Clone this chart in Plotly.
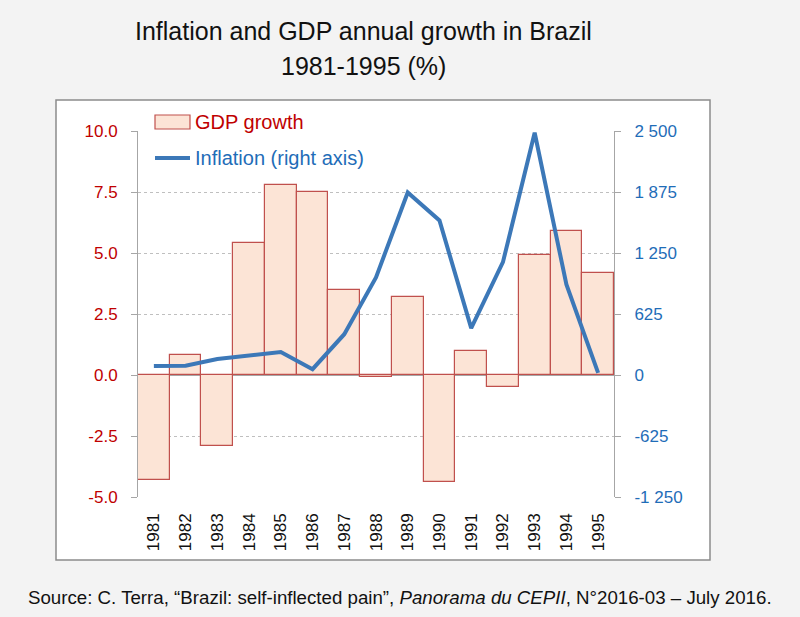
import plotly.graph_objects as go

years = ["1981", "1982", "1983", "1984", "1985", "1986", "1987", "1988",
         "1989", "1990", "1991", "1992", "1993", "1994", "1995"]
gdp_growth = [-4.3, 0.8, -2.9, 5.4, 7.8, 7.5, 3.5, -0.1, 3.2, -4.4, 1.0, -0.5, 4.9, 5.9, 4.2]
inflation = [92, 95, 163, 204, 235, 60, 418, 1000, 1870, 1584, 480, 1156, 2482, 928, 22]

left_ticks = [-5.0, -2.5, 0.0, 2.5, 5.0, 7.5, 10.0]
left_ticktext = ["-5.0", "-2.5", "0.0", "2.5", "5.0", "7.5", "10.0"]
right_ticks = [-1250, -625, 0, 625, 1250, 1875, 2500]
right_ticktext = ["-1 250", "-625", "0", "625", "1 250", "1 875", "2 500"]

FONT = "Liberation Sans Narrow, Arial Narrow, Liberation Sans, Arial, sans-serif"
RED = "#C00000"
BLUE = "#1F6DB8"
BAR_FILL = "#FCE4D6"
BAR_LINE = "#C0504D"
LINE_COL = "#3C78B8"

# plot area in pixels
L, R, T, B = 138, 614, 131, 497
PW, PH = R - L, B - T


def px(x):
    return (x - L) / PW


def py(y):
    return (B - y) / PH


fig = go.Figure()
fig.add_trace(go.Bar(
    x=years, y=gdp_growth, name="GDP growth",
    marker=dict(color=BAR_FILL, line=dict(color=BAR_LINE, width=1.2)),
    width=1.0, yaxis="y", showlegend=False,
))
fig.add_trace(go.Scatter(
    x=years, y=inflation, name="Inflation (right axis)", mode="lines",
    line=dict(color=LINE_COL, width=4), yaxis="y2", showlegend=False,
))

shapes = [
    dict(type="rect", xref="paper", yref="paper", layer="below",
         x0=px(56), x1=px(710), y0=py(560), y1=py(100),
         fillcolor="white", line=dict(color="#8C8C8C", width=1.5)),
    # legend swatches
    dict(type="rect", xref="paper", yref="paper",
         x0=px(155), x1=px(190), y0=py(129), y1=py(115),
         fillcolor=BAR_FILL, line=dict(color=BAR_LINE, width=1.2)),
    dict(type="line", xref="paper", yref="paper",
         x0=px(155), x1=px(190), y0=py(158), y1=py(158),
         line=dict(color=LINE_COL, width=4)),
]

annotations = [
    dict(xref="paper", yref="paper", x=px(363), y=py(31),
         xanchor="center", yanchor="middle", showarrow=False,
         text="Inflation and GDP annual growth in Brazil",
         font=dict(family=FONT, size=25, color="#111111")),
    dict(xref="paper", yref="paper", x=px(363), y=py(66),
         xanchor="center", yanchor="middle", showarrow=False,
         text="1981-1995 (%)",
         font=dict(family=FONT, size=25, color="#111111")),
    dict(xref="paper", yref="paper", x=px(193), y=py(122),
         xanchor="left", yanchor="middle", showarrow=False,
         text="GDP growth", font=dict(family=FONT, size=20, color=RED)),
    dict(xref="paper", yref="paper", x=px(193), y=py(158),
         xanchor="left", yanchor="middle", showarrow=False,
         text="Inflation (right axis)", font=dict(family=FONT, size=20, color=BLUE)),
    dict(xref="paper", yref="paper", x=px(400), y=py(597),
         xanchor="center", yanchor="middle", showarrow=False,
         text="Source: C. Terra, \u201cBrazil: self-inflected pain\u201d, <i>Panorama du CEPII</i>, N\u00b02016-03 \u2013 July 2016.",
         font=dict(family=FONT, size=18.7, color="#111111")),
]

fig.update_layout(
    width=800, height=617,
    margin=dict(l=L, r=800 - R, t=T, b=617 - B),
    paper_bgcolor="#F3F3F3", plot_bgcolor="white",
    font=dict(family=FONT),
    bargap=0,
    showlegend=False,
    xaxis=dict(
        type="category", tickangle=-90, showgrid=False, showline=False,
        ticks="", ticklabelstandoff=12,
        tickfont=dict(family=FONT, size=17, color="#111111"),
    ),
    yaxis=dict(
        range=[-5, 10], tickvals=left_ticks, ticktext=left_ticktext,
        tickfont=dict(family=FONT, size=17, color=RED), ticklabelstandoff=10,
        showgrid=True, gridcolor="#BFBFBF", griddash="dot", gridwidth=1,
        showline=True, linecolor="#A6A6A6", linewidth=1,
        ticks="outside", ticklen=6, tickcolor="#A6A6A6",
        zeroline=True, zerolinecolor="#A6A6A6", zerolinewidth=1.5,
    ),
    yaxis2=dict(
        overlaying="y", side="right", range=[-1250, 2500],
        tickvals=right_ticks, ticktext=right_ticktext,
        tickfont=dict(family=FONT, size=17, color=BLUE), ticklabelstandoff=10,
        showgrid=False, zeroline=False,
        showline=True, linecolor="#A6A6A6", linewidth=1,
        ticks="outside", ticklen=6, tickcolor="#A6A6A6",
    ),
    shapes=shapes,
    annotations=annotations,
)

fig.write_html("out.html", config={"displayModeBar": False},
               post_script="document.body.style.margin='0';")
